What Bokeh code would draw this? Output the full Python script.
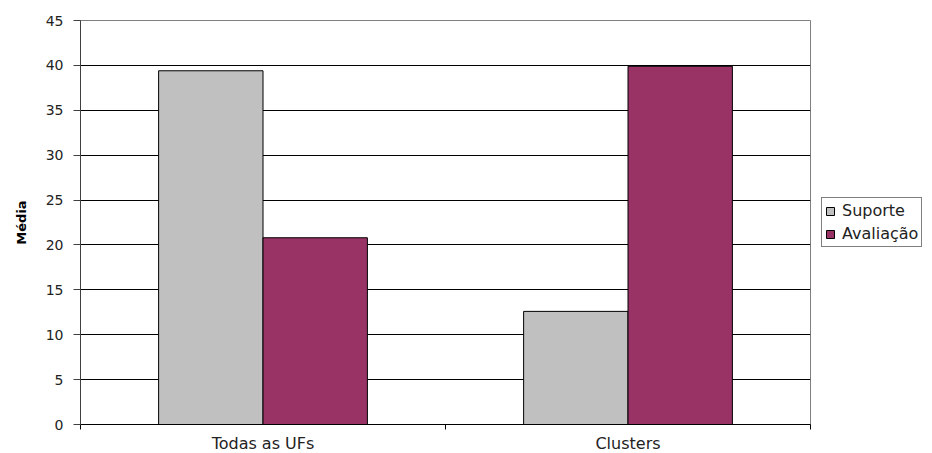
from bokeh.plotting import figure
from bokeh.models import ColumnDataSource, Range1d, FixedTicker, Legend, LegendItem
from bokeh.embed import file_html
from bokeh.resources import INLINE

categories = ["Todas as UFs", "Clusters"]
series_names = ["Suporte", "Avaliação"]
suporte = [39.4, 12.6]
avaliacao = [20.8, 39.9]
y_ticks = [0, 5, 10, 15, 20, 25, 30, 35, 40, 45]

colors = ["#C0C0C0", "#993366"]
bar_w = 0.286
offsets = [-bar_w / 2, bar_w / 2]

p = figure(frame_width=730, frame_height=404, output_backend="svg", toolbar_location=None,
           x_range=Range1d(0, len(categories)), y_range=Range1d(0, 45),
           min_border_left=80, min_border_right=122, min_border_top=20, min_border_bottom=29)
p.background_fill_color = "white"
p.border_fill_color = "white"
p.outline_line_color = "#808080"
p.outline_line_width = 1

renderers = []
for vals, col, off in zip([suporte, avaliacao], colors, offsets):
    src = ColumnDataSource(dict(x=[i + 0.5 + off for i in range(len(categories))], top=vals))
    r = p.vbar(x="x", top="top", width=bar_w, bottom=0, source=src,
               fill_color=col, line_color="black", line_width=1)
    renderers.append(r)

# x axis: labels at category centres, ticks at category boundaries
p.xaxis.ticker = FixedTicker(ticks=[i + 0.5 for i in range(len(categories))],
                             minor_ticks=list(range(len(categories) + 1)))
p.xaxis.major_label_overrides = {i + 0.5: c for i, c in enumerate(categories)}
p.xaxis.major_tick_line_color = None
p.xaxis.minor_tick_line_color = "black"
p.xaxis.minor_tick_out = 5
p.xaxis.minor_tick_in = 0
p.xaxis.axis_line_color = "black"
p.xaxis.major_label_text_font = "DejaVu Sans"
p.xaxis.major_label_text_font_size = "16px"
p.xaxis.major_label_text_color = "#222222"
p.xaxis.major_label_standoff = 3
p.xgrid.visible = False

p.yaxis.ticker = FixedTicker(ticks=y_ticks)
p.yaxis.minor_tick_line_color = None
p.yaxis.major_tick_out = 7
p.yaxis.major_tick_in = 0
p.yaxis.major_tick_line_color = "#404040"
p.yaxis.axis_line_color = "#404040"
p.yaxis.major_label_text_font = "DejaVu Sans"
p.yaxis.major_label_text_font_size = "14px"
p.yaxis.major_label_text_color = "#222222"
p.yaxis.major_label_standoff = 10
p.yaxis.axis_label = "Média"
p.yaxis.axis_label_text_font = "DejaVu Sans"
p.yaxis.axis_label_text_font_style = "bold"
p.yaxis.axis_label_text_font_size = "13px"
p.yaxis.axis_label_text_color = "black"
p.yaxis.axis_label_standoff = 14

p.ygrid.ticker = FixedTicker(ticks=y_ticks[1:-1])
p.ygrid.grid_line_color = "black"
p.ygrid.grid_line_width = 1

legend = Legend(items=[LegendItem(label=n, renderers=[r]) for n, r in zip(series_names, renderers)],
                location="left")
legend.border_line_color = "black"
legend.border_line_width = 1
legend.background_fill_color = "white"
legend.background_fill_alpha = 1
legend.label_text_font = "DejaVu Sans"
legend.label_text_font_size = "16px"
legend.label_text_color = "#222222"
legend.glyph_width = 10
legend.glyph_height = 10
legend.label_height = 17
legend.label_standoff = 7
legend.spacing = 4
legend.padding = 3
legend.margin = 11
p.add_layout(legend, "right")

open("out.html", "w").write(file_html(p, INLINE))
